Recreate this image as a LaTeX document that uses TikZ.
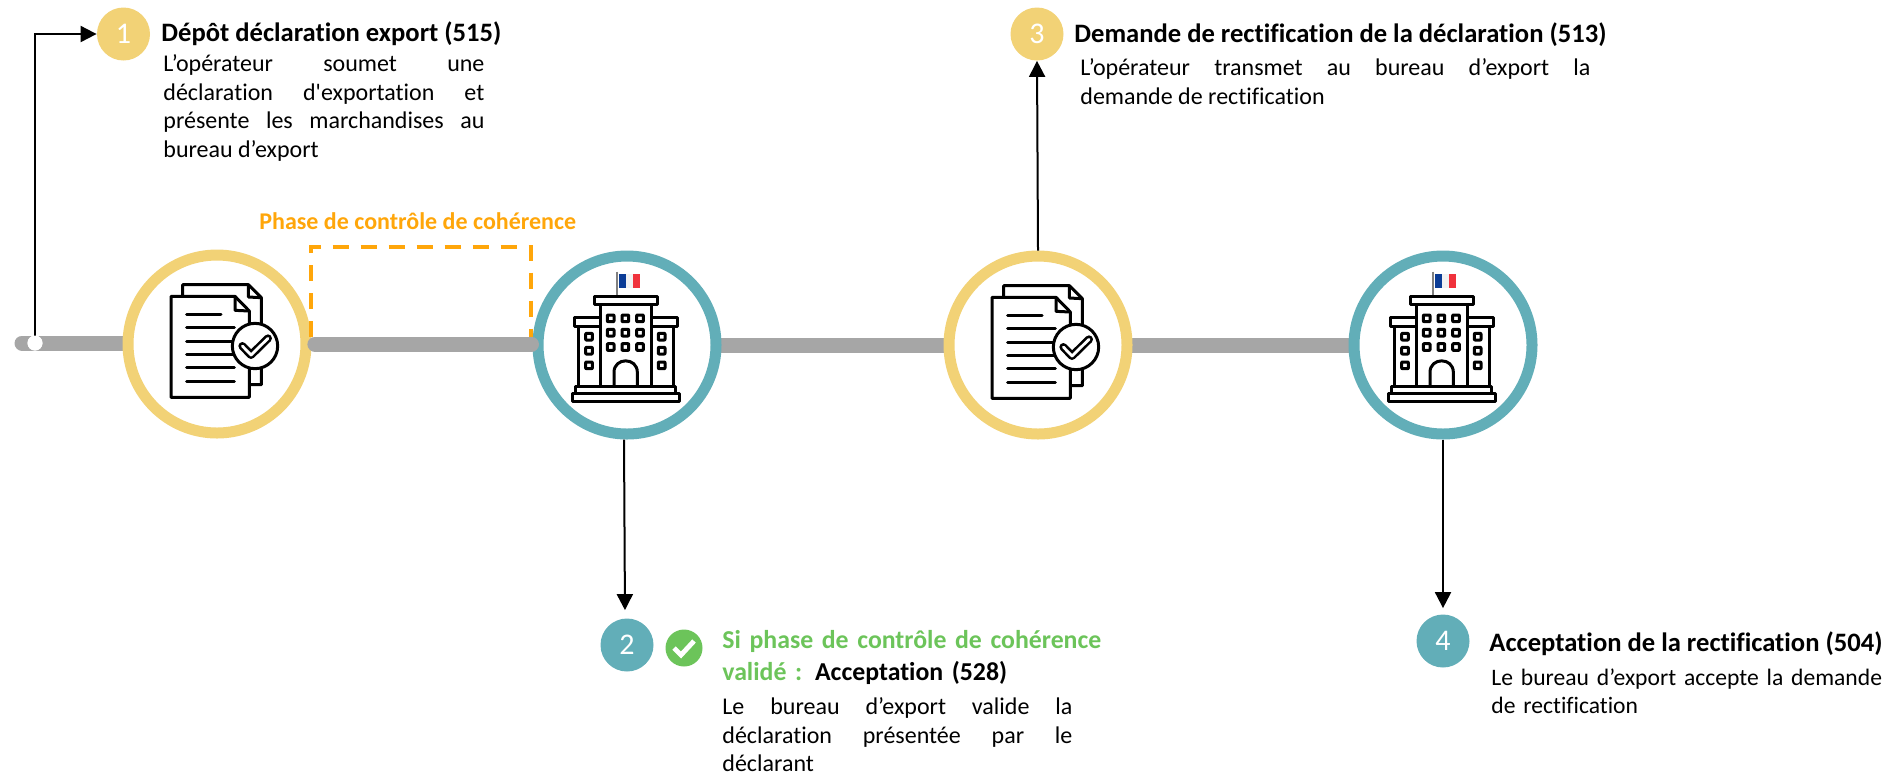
\documentclass[tikz,border=0pt]{standalone}
\usepackage{fontspec}
\setmainfont[Ligatures=NoCommon]{Carlito}
\newfontfamily\aposfont{Carlito}
\usetikzlibrary{arrows.meta}
\definecolor{cyellow}{HTML}{F2D276}
\definecolor{cteal}{HTML}{62AEB8}
\definecolor{cgrey}{HTML}{A6A6A6}
\definecolor{corange}{HTML}{FFA60A}
\definecolor{cgreen}{HTML}{6CC45A}
\definecolor{fblue}{HTML}{0B3C96}
\definecolor{fwhite}{HTML}{F2F2F2}
\definecolor{fred}{HTML}{F0323C}
\tikzset{
  bigring/.style={circle,draw=#1,line width=5.5pt,fill=white,minimum size=89pt,inner sep=0pt},
  stepnum/.style={circle,fill=#1,text=white,minimum size=26.5pt,inner sep=0pt,font=\fontsize{15}{18}\selectfont},
  barline/.style={cgrey,line width=7.5pt},
  conn/.style={black,line width=1pt,-{Triangle[length=8pt,width=8pt]}},
  heading/.style={anchor=north west,inner sep=0pt,font=\fontsize{13.3}{16}\selectfont\bfseries},
  bodytxt/.style={anchor=north west,inner sep=0pt,align=justify,font=\fontsize{12}{14.4}\selectfont},
  icon/.style={black,line width=1.5pt,line join=round},
}
\newcommand{\docicon}[1]{%
\begin{scope}[shift={(#1)},x=0.16667pt,y=-0.16667pt,shift={(-291,-296)},icon]
  \draw[fill=white] (188,153) -- (188,118) -- (385,118) -- (424,157) -- (424,418) -- (388,418);
  \draw (385,118) -- (385,155) -- (424,157);
  \draw[fill=white] (153,153) -- (345,153) -- (388,197) -- (388,456) -- (153,456) -- cycle;
  \draw (345,153) -- (345,195) -- (388,197);
  \draw[line cap=round] (200,207) -- (303,207) (200,247) -- (343,247) (200,287) -- (343,287)
     (200,327) -- (343,327) (200,367) -- (343,367) (200,407) -- (343,407);
  \draw[fill=white] (405,302) circle[radius=68];
  \draw[line width=4pt,line cap=round] (367,302) -- (393,329) -- (444,279);
  \draw[white,line width=1.4pt,line cap=round] (367,302) -- (393,329) -- (444,279);
\end{scope}}
\newcommand{\bldicon}[1]{%
\begin{scope}[shift={(#1)},x=0.16667pt,y=-0.16667pt,shift={(-324,-315)},icon]
  \draw[gray,line width=1pt] (295,95) -- (295,166);
  \fill[fblue] (300,102) rectangle (321,144);
  \fill[fwhite] (321,102) rectangle (342,144);
  \fill[fred] (342,102) rectangle (363,144);
  \draw (177,258) rectangle (243,438);
  \draw (397,258) rectangle (462,438);
  \draw (245,192) rectangle (397,438);
  \draw (226,168) rectangle (414,192);
  \draw (165,233) rectangle (243,258);
  \draw (397,233) rectangle (475,258);
  \foreach \wx in {275,319,363} \foreach \wy in {235,278,321}
    \draw[rounded corners=0.3pt] (\wx-10,\wy-10) rectangle (\wx+10,\wy+10);
  \foreach \wx in {210,428} \foreach \wy in {290,332,376}
    \draw[rounded corners=0.3pt] (\wx-10,\wy-10) rectangle (\wx+10,\wy+10);
  \draw (285,438) -- (285,397) .. controls (285,351) and (355,351) .. (355,397) -- (355,438);
  \draw (170,438) rectangle (470,460);
  \draw (160,460) rectangle (480,485);
\end{scope}}
\begin{document}
\begin{tikzpicture}[x=0.5pt,y=-0.5pt]
\useasboundingbox (0,0) rectangle (1898,773);
\tolerance=10000 \hbadness=10000
% bars behind the rings
\coordinate (barstart) at (22,343);
\coordinate (c1pos) at (217,344);
\coordinate (c2pos) at (627,345);
\coordinate (c3pos) at (1038,345);
\coordinate (c4pos) at (1443,345);
\coordinate (c1w) at (125,343);
\draw[barline,line cap=round] (barstart) -- (c1w);
\coordinate (b3a) at (710,345); \coordinate (b3b) at (950,345);
\coordinate (b4a) at (1125,345); \coordinate (b4b) at (1355,345);
\draw[barline] (b3a) -- (b3b);
\draw[barline] (b4a) -- (b4b);
% rings
\node[bigring=cyellow] (c1) at (c1pos) {};
\node[bigring=cteal] (c2) at (c2pos) {};
\node[bigring=cyellow] (c3) at (c3pos) {};
\node[bigring=cteal] (c4) at (c4pos) {};
\docicon{c1}
\bldicon{c2}
\docicon{c3}
\bldicon{c4}
% control phase
\coordinate (da) at (310.5,337); \coordinate (db) at (310.5,247);
\coordinate (dc) at (531,247); \coordinate (dd) at (531,337);
\draw[corange,line width=2pt,dash pattern=on 8pt off 6pt] (da) -- (db) -- (dc) -- (dd);
\draw[barline,line cap=round] ([xshift=1.7pt]c1.east) -- ([xshift=-0.5pt,yshift=0.5pt]c2.west);
\node[anchor=base west,inner sep=0pt,text=corange,font=\fontsize{12}{14}\selectfont\bfseries] (phase) at (259,229) {Phase de contrôle de cohérence};
% step numbers
\node[stepnum=cyellow] (s1) at (123.5,34) {1};
\node[stepnum=cteal] (s2) at (627,645) {2};
\node[stepnum=cyellow] (s3) at (1037,34) {3};
\node[stepnum=cteal] (s4) at (1443,641) {4};
% connectors
\node[circle,fill=white,minimum size=7.5pt,inner sep=0pt] (dot) at (35,343) {};
\draw[conn] (dot.center) |- (s1.west);
\draw[conn,shorten >=4pt] ([xshift=-1.5pt]c2.south) -- ([xshift=-1pt]s2.north);
\draw[conn] (c3.north) -- (s3.south);
\draw[conn,shorten >=3pt] (c4.south) -- (s4.north);
\node[circle,fill=white,minimum size=7.5pt,inner sep=0pt] (dot2) at (35,343) {};
% check badge
\node[circle,fill=cgreen,minimum size=18.5pt,inner sep=0pt] (chk) at (684,648) {};
\draw[white,line width=2.4pt] ([shift={(-10,0)}]chk.center) -- ([shift={(-3,7)}]chk.center) -- ([shift={(10,-7)}]chk.center);
% texts
\node[heading] (t1) at (161,21) {Dépôt déclaration export (515)};
\node[bodytxt,text width=160.5pt] (b1) at (163,54) {L’opérateur soumet une\linebreak déclaration d{\aposfont'}exportation et\linebreak présente les marchandises au\linebreak bureau d’export};
\node[heading] (t3) at (1074,22) {Demande de rectification de la déclaration (513)};
\node[bodytxt,text width=255pt] (b3) at (1080,58) {L’opérateur transmet au bureau d’export la\linebreak demande de rectification};
\node[heading,text width=200pt,align=left,text=cgreen,font=\fontsize{12.9}{16}\selectfont\bfseries] (t2) at (722,630) {Si phase de contrôle de cohérence\\validé~: \textcolor{black}{Acceptation (528)}};
\node[bodytxt,text width=175pt] (b2) at (722,697) {Le bureau d’export valide la\linebreak déclaration présentée par le\linebreak déclarant};
\node[heading] (t4) at (1489,631) {Acceptation de la rectification (504)};
\node[bodytxt,text width=200pt,align=left,font=\fontsize{11.8}{14.4}\selectfont] (b4) at (1491,668) {Le bureau d’export accepte la demande\\de rectification};
\end{tikzpicture}
\end{document}
